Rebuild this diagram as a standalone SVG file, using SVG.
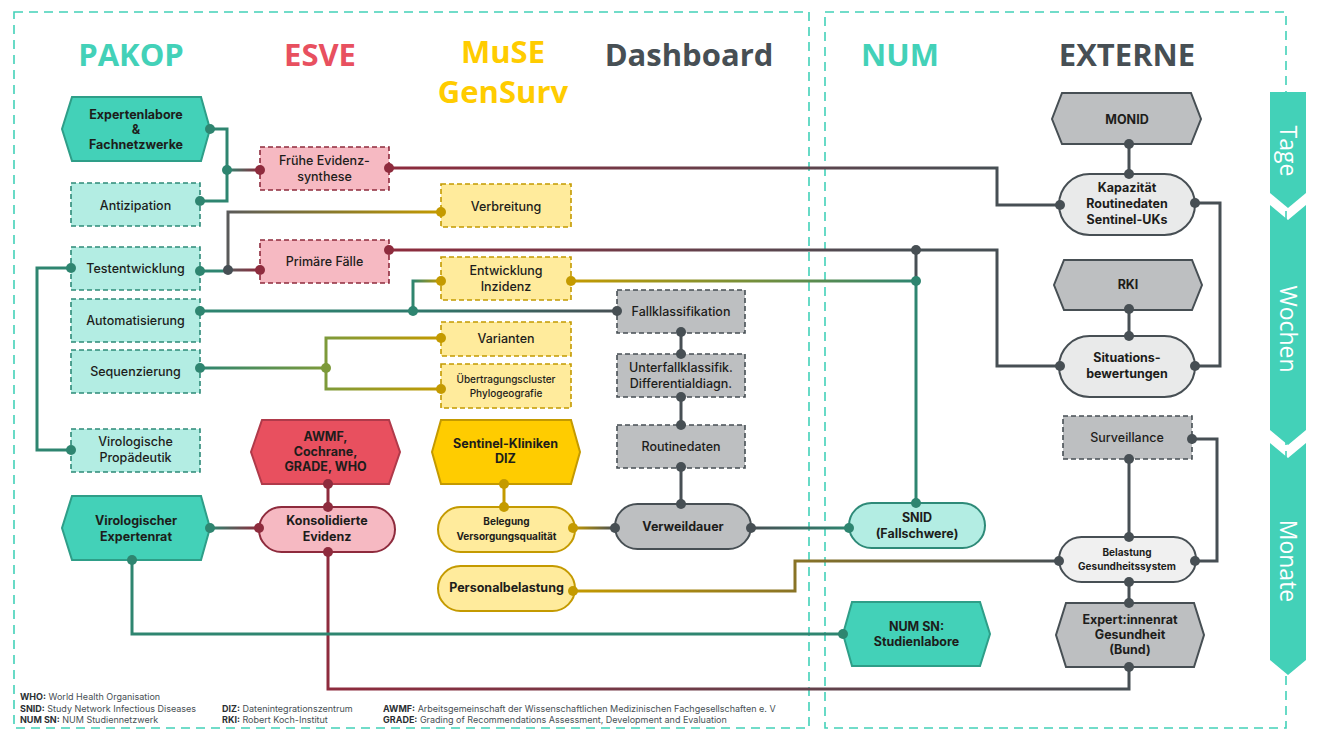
<svg xmlns="http://www.w3.org/2000/svg" width="1320" height="741" viewBox="0 0 1320 741">
<style>
.hdr{font-family:"Open Sans","Liberation Sans",sans-serif;font-weight:700;font-size:31px;text-anchor:middle}
.t{font-family:Inter,"Open Sans","Liberation Sans",sans-serif;font-size:12.5px;font-weight:500;text-anchor:middle;fill:#1d1d1b}
.b{font-weight:700}
.s{font-size:10px}
.lg{font-family:Inter,"Open Sans","Liberation Sans",sans-serif;font-size:9px;fill:#474F54}
.lg tspan.k{font-weight:700;fill:#2b2f33}
.frame{fill:none;stroke:#43D1B8;stroke-width:1.6;stroke-dasharray:9 6}
.hexT{fill:#43D1B8;stroke:#2E9E88;stroke-width:2}
.boxT{fill:#B3EDE3;stroke:#2E8A78;stroke-width:1.6;stroke-dasharray:5 3}
.stT{fill:#B3EDE3;stroke:#2E8A78;stroke-width:2}
.hexR{fill:#E8505F;stroke:#B03A4A;stroke-width:2}
.boxR{fill:#F6B9C2;stroke:#8E2B3D;stroke-width:1.6;stroke-dasharray:5 3}
.stR{fill:#F6B9C2;stroke:#8E2B3D;stroke-width:2}
.hexY{fill:#FFCC00;stroke:#C49A00;stroke-width:2}
.boxY{fill:#FFEB9C;stroke:#C49A00;stroke-width:1.6;stroke-dasharray:5 3}
.stY{fill:#FFEB9C;stroke:#C49A00;stroke-width:2}
.hexG{fill:#BDBFC1;stroke:#474F54;stroke-width:2}
.boxG{fill:#BDBFC1;stroke:#474F54;stroke-width:1.6;stroke-dasharray:5 3}
.stG{fill:#BDBFC1;stroke:#474F54;stroke-width:2}
.stL{fill:#E9EAEA;stroke:#474F54;stroke-width:2}
.c{fill:none;stroke-width:3}
.ct{stroke:#2E8570}.cr{stroke:#8E2B3D}.cy{stroke:#C49A00}.cg{stroke:#474F54}
.dT{fill:#2E8570}.dR{fill:#8E2B3D}.dY{fill:#C49A00}.dG{fill:#474F54}.dO{fill:#7D9A3A}
.bar{fill:#43D1B8}
.bt{font-family:"Open Sans","Liberation Sans",sans-serif;font-size:23px;fill:#ffffff;text-anchor:middle}
</style>
<defs>
<linearGradient id="gTR1" gradientUnits="userSpaceOnUse" x1="227" y1="0" x2="260" y2="0"><stop offset="0" stop-color="#2E8570"/><stop offset="1" stop-color="#8E2B3D"/></linearGradient>
<linearGradient id="gGR" gradientUnits="userSpaceOnUse" x1="228" y1="0" x2="260" y2="0"><stop offset="0" stop-color="#5a5a5a"/><stop offset="1" stop-color="#8E2B3D"/></linearGradient>
<linearGradient id="gGY" gradientUnits="userSpaceOnUse" x1="228" y1="0" x2="441" y2="0"><stop offset="0" stop-color="#5a5a5a"/><stop offset="0.5" stop-color="#8a7a2a"/><stop offset="1" stop-color="#C49A00"/></linearGradient>
<linearGradient id="gTG" gradientUnits="userSpaceOnUse" x1="200" y1="0" x2="617" y2="0"><stop offset="0" stop-color="#2E8570"/><stop offset="0.5" stop-color="#2E7A6C"/><stop offset="1" stop-color="#474F54"/></linearGradient>
<linearGradient id="gTY" gradientUnits="userSpaceOnUse" x1="413" y1="0" x2="441" y2="0"><stop offset="0" stop-color="#2E8570"/><stop offset="1" stop-color="#C49A00"/></linearGradient>
<linearGradient id="gTO" gradientUnits="userSpaceOnUse" x1="200" y1="0" x2="326" y2="0"><stop offset="0" stop-color="#2E8570"/><stop offset="1" stop-color="#7D9A3A"/></linearGradient>
<linearGradient id="gOY" gradientUnits="userSpaceOnUse" x1="326" y1="0" x2="441" y2="0"><stop offset="0" stop-color="#7D9A3A"/><stop offset="1" stop-color="#C49A00"/></linearGradient>
<linearGradient id="gRG1" gradientUnits="userSpaceOnUse" x1="389" y1="0" x2="997" y2="0"><stop offset="0" stop-color="#8E2B3D"/><stop offset="1" stop-color="#474F54"/></linearGradient>
<linearGradient id="gRG2" gradientUnits="userSpaceOnUse" x1="389" y1="0" x2="916" y2="0"><stop offset="0" stop-color="#8E2B3D"/><stop offset="1" stop-color="#474F54"/></linearGradient>
<linearGradient id="gYT" gradientUnits="userSpaceOnUse" x1="571" y1="0" x2="916" y2="0"><stop offset="0" stop-color="#C49A00"/><stop offset="1" stop-color="#2E8570"/></linearGradient>
<linearGradient id="gTR2" gradientUnits="userSpaceOnUse" x1="210" y1="0" x2="259" y2="0"><stop offset="0" stop-color="#2E8570"/><stop offset="1" stop-color="#8E2B3D"/></linearGradient>
<linearGradient id="gRG3" gradientUnits="userSpaceOnUse" x1="328" y1="0" x2="1129" y2="0"><stop offset="0" stop-color="#8E2B3D"/><stop offset="1" stop-color="#474F54"/></linearGradient>
<linearGradient id="gYG1" gradientUnits="userSpaceOnUse" x1="573" y1="0" x2="615" y2="0"><stop offset="0" stop-color="#C49A00"/><stop offset="1" stop-color="#474F54"/></linearGradient>
<linearGradient id="gYG2" gradientUnits="userSpaceOnUse" x1="573" y1="0" x2="1059" y2="0"><stop offset="0" stop-color="#C49A00"/><stop offset="0.45" stop-color="#8A7425"/><stop offset="1" stop-color="#474F54"/></linearGradient>
<linearGradient id="gGT" gradientUnits="userSpaceOnUse" x1="751" y1="0" x2="849" y2="0"><stop offset="0" stop-color="#474F54"/><stop offset="1" stop-color="#2E8570"/></linearGradient>
</defs>

<rect width="1320" height="741" fill="#ffffff"/>

<g id="frames">
<rect class="frame" x="14" y="12" width="795" height="716"/>
<rect class="frame" x="825" y="12" width="461" height="716"/>
</g>

<g id="headers">
<text class="hdr" x="131" y="66" fill="#43D1B8">PAKOP</text>
<text class="hdr" x="320" y="66" fill="#E8505F">ESVE</text>
<text class="hdr" x="503" y="63" fill="#FFCC00">MuSE</text>
<text class="hdr" x="503" y="103" fill="#FFCC00">GenSurv</text>
<text class="hdr" x="689" y="66" fill="#474F54">Dashboard</text>
<text class="hdr" x="900" y="66" fill="#43D1B8">NUM</text>
<text class="hdr" x="1127" y="66" fill="#474F54">EXTERNE</text>
</g>

<g id="timeline">
<polygon class="bar" points="1270,92 1306,92 1306,193 1288,208 1270,193"/>
<polygon class="bar" points="1270,205 1288,220 1306,205 1306,430 1288,445 1270,430"/>
<polygon class="bar" points="1270,443 1288,458 1306,443 1306,660 1288,675 1270,660"/>
<text class="bt" transform="translate(1280,151) rotate(90)">Tage</text>
<text class="bt" transform="translate(1280,329) rotate(90)">Wochen</text>
<text class="bt" transform="translate(1280,561) rotate(90)">Monate</text>
</g>

<g id="connectors">
<path class="c ct" d="M210,129 H227 V201 H200"/>
<path class="c" stroke="url(#gTR1)" d="M227,170 H260"/>
<path class="c ct" d="M200,271 H228"/>
<path class="c" stroke="url(#gGR)" d="M228,270 H260"/>
<path class="c" stroke="url(#gGY)" d="M228,270 V212 H441"/>
<path class="c ct" d="M71,268 H37 V450 H71"/>
<path class="c" stroke="url(#gTG)" d="M200,311 H617"/>
<path class="c" stroke="url(#gTY)" d="M413,311 V281 H441"/>
<path class="c" stroke="url(#gTO)" d="M200,368 H326"/>
<path class="c" stroke="url(#gOY)" d="M441,338 H326 V389 H441"/>
<path class="c" stroke="url(#gRG1)" d="M389,168 H997 V205 H1060"/>
<path class="c" stroke="url(#gRG2)" d="M389,250 H997 V366 H1060"/>
<path class="c cg" d="M916,250 V281"/>
<path class="c ct" d="M916,281 V503"/>
<path class="c" stroke="url(#gYT)" d="M571,281 H916"/>
<path class="c cr" d="M328,484 V507"/>
<path class="c" stroke="url(#gTR2)" d="M210,528 H259"/>
<path class="c" stroke="url(#gRG3)" d="M328,552 V689 H1129 V667"/>
<path class="c ct" d="M132,560 V634 H843"/>
<path class="c cy" d="M504,484 V507"/>
<path class="c" stroke="url(#gYG1)" d="M573,528 H615"/>
<path class="c" stroke="url(#gYG2)" d="M573,591 H795 V561 H1059"/>
<path class="c cg" d="M681,332 V354 M681,397 V425 M681,467 V504"/>
<path class="c" stroke="url(#gGT)" d="M751,528 H849"/>
<path class="c cg" d="M1129,144 V174"/>
<path class="c cg" d="M1195,203 H1220 V366 H1195"/>
<path class="c cg" d="M1129,309 V336"/>
<path class="c cg" d="M1192,439 H1217 V561 H1195"/>
<path class="c cg" d="M1129,459 V537"/>
<path class="c cg" d="M1129,582 V603"/>
</g>

<g id="n-expertenlabore">
<polygon class="hexT" points="72,97 201,97 210,129 201,161 72,161 62,129"/>
<text class="t b"><tspan x="136" y="119">Expertenlabore</tspan><tspan x="136" y="134">&amp;</tspan><tspan x="136" y="149">Fachnetzwerke</tspan></text>
</g>
<g id="n-antizipation">
<rect class="boxT" x="71" y="183" width="129" height="43"/>
<text class="t" x="135.5" y="209.5">Antizipation</text>
</g>
<g id="n-testentwicklung">
<rect class="boxT" x="71" y="247" width="129" height="43"/>
<text class="t" x="135.5" y="272.5">Testentwicklung</text>
</g>
<g id="n-automatisierung">
<rect class="boxT" x="71" y="299" width="129" height="43"/>
<text class="t" x="135.5" y="324.5">Automatisierung</text>
</g>
<g id="n-sequenzierung">
<rect class="boxT" x="71" y="350" width="129" height="43"/>
<text class="t" x="135.5" y="375.5">Sequenzierung</text>
</g>
<g id="n-propaedeutik">
<rect class="boxT" x="71" y="429" width="129" height="43"/>
<text class="t"><tspan x="135.5" y="446">Virologische</tspan><tspan x="135.5" y="462">Propädeutik</tspan></text>
</g>
<g id="n-expertenrat">
<polygon class="hexT" points="72,496 201,496 210,528 201,560 72,560 62,528"/>
<text class="t b"><tspan x="136" y="525">Virologischer</tspan><tspan x="136" y="541">Expertenrat</tspan></text>
</g>

<g id="n-fruehe">
<rect class="boxR" x="260" y="147" width="129" height="43"/>
<text class="t"><tspan x="324.5" y="165">Frühe Evidenz-</tspan><tspan x="324.5" y="181">synthese</tspan></text>
</g>
<g id="n-primaere">
<rect class="boxR" x="260" y="240" width="129" height="43"/>
<text class="t" x="324.5" y="265.5">Primäre Fälle</text>
</g>
<g id="n-awmf">
<polygon class="hexR" points="262,420 389,420 400,452 389,484 262,484 251,452"/>
<text class="t b"><tspan x="325.5" y="441">AWMF,</tspan><tspan x="325.5" y="456">Cochrane,</tspan><tspan x="325.5" y="471">GRADE, WHO</tspan></text>
</g>
<g id="n-konsolidierte">
<rect class="stR" x="259" y="507" width="136" height="45" rx="22.5"/>
<text class="t b"><tspan x="327" y="525">Konsolidierte</tspan><tspan x="327" y="541">Evidenz</tspan></text>
</g>

<g id="n-verbreitung">
<rect class="boxY" x="441" y="184" width="130" height="43"/>
<text class="t" x="506" y="210.5">Verbreitung</text>
</g>
<g id="n-entwicklung">
<rect class="boxY" x="441" y="257" width="130" height="43"/>
<text class="t"><tspan x="506" y="275">Entwicklung</tspan><tspan x="506" y="291">Inzidenz</tspan></text>
</g>
<g id="n-varianten">
<rect class="boxY" x="441" y="322" width="130" height="34"/>
<text class="t" x="506" y="343">Varianten</text>
</g>
<g id="n-uebertragung">
<rect class="boxY" x="441" y="364" width="130" height="44"/>
<text class="t s"><tspan x="506" y="383">Übertragungscluster</tspan><tspan x="506" y="396.5">Phylogeografie</tspan></text>
</g>
<g id="n-sentinel">
<polygon class="hexY" points="441,420 571,420 580,452 571,484 441,484 432,452"/>
<text class="t b"><tspan x="505.5" y="448">Sentinel-Kliniken</tspan><tspan x="505.5" y="463">DIZ</tspan></text>
</g>
<g id="n-belegung">
<rect class="stY" x="438" y="507" width="137" height="45" rx="22.5"/>
<text class="t b s"><tspan x="506.5" y="525">Belegung</tspan><tspan x="506.5" y="539.5">Versorgungsqualität</tspan></text>
</g>
<g id="n-personal">
<rect class="stY" x="438" y="566" width="137" height="45" rx="22.5"/>
<text class="t b" x="506.5" y="592" font-size="12">Personalbelastung</text>
</g>

<g id="n-fallklassifikation">
<rect class="boxG" x="617" y="290" width="128" height="43"/>
<text class="t" x="681" y="315.5">Fallklassifikation</text>
</g>
<g id="n-unterfall">
<rect class="boxG" x="617" y="354" width="128" height="43"/>
<text class="t"><tspan x="681" y="372">Unterfallklassifik.</tspan><tspan x="681" y="388">Differentialdiagn.</tspan></text>
</g>
<g id="n-routinedaten">
<rect class="boxG" x="617" y="425" width="128" height="43"/>
<text class="t" x="681" y="450.5">Routinedaten</text>
</g>
<g id="n-verweildauer">
<rect class="stG" x="615" y="504" width="136" height="45" rx="22.5"/>
<text class="t b" x="683" y="531" font-size="14">Verweildauer</text>
</g>

<g id="n-snid">
<rect class="stT" x="849" y="503" width="136" height="45" rx="22.5"/>
<text class="t b"><tspan x="917" y="522">SNID</tspan><tspan x="917" y="538">(Fallschwere)</tspan></text>
</g>
<g id="n-numsn">
<polygon class="hexT" points="852,602 980,602 990,634 980,666 852,666 843,634"/>
<text class="t b"><tspan x="916.5" y="630.5">NUM SN:</tspan><tspan x="916.5" y="646">Studienlabore</tspan></text>
</g>

<g id="n-monid">
<polygon class="hexG" points="1062,93 1191,93 1201,119 1191,144 1062,144 1052,119"/>
<text class="t b" x="1127" y="123.5">MONID</text>
</g>
<g id="n-kapazitaet">
<rect class="stL" x="1059" y="174" width="136" height="61" rx="30.5"/>
<text class="t b"><tspan x="1127" y="192">Kapazität</tspan><tspan x="1127" y="208">Routinedaten</tspan><tspan x="1127" y="224">Sentinel-UKs</tspan></text>
</g>
<g id="n-rki">
<polygon class="hexG" points="1064,260 1192,260 1202,285 1192,310 1064,310 1054,285"/>
<text class="t b" x="1128" y="289">RKI</text>
</g>
<g id="n-situations">
<rect class="stL" x="1059" y="336" width="136" height="61" rx="30.5"/>
<text class="t b"><tspan x="1127" y="362">Situations-</tspan><tspan x="1127" y="378">bewertungen</tspan></text>
</g>
<g id="n-surveillance">
<rect class="boxG" x="1063" y="416" width="129" height="43"/>
<text class="t" x="1127" y="441.5">Surveillance</text>
</g>
<g id="n-belastung">
<rect class="stL" x="1059" y="537" width="137" height="45" rx="22.5" style="fill:#F0F0F0"/>
<text class="t b s"><tspan x="1127" y="556">Belastung</tspan><tspan x="1127" y="570">Gesundheitssystem</tspan></text>
</g>
<g id="n-expertinnenrat">
<polygon class="hexG" points="1066,603 1194,603 1204,635 1194,667 1066,667 1056,635"/>
<text class="t b"><tspan x="1130" y="624">Expert:innenrat</tspan><tspan x="1130" y="639">Gesundheit</tspan><tspan x="1130" y="654">(Bund)</tspan></text>
</g>

<g id="dots">
<g class="dT">
<circle cx="210" cy="129" r="5"/><circle cx="227" cy="170" r="5"/><circle cx="200" cy="201" r="5"/>
<circle cx="71" cy="268" r="5"/><circle cx="200" cy="271" r="5"/><circle cx="200" cy="311" r="5"/>
<circle cx="413" cy="311" r="5"/><circle cx="200" cy="368" r="5"/><circle cx="71" cy="450" r="5"/>
<circle cx="210" cy="528" r="5"/><circle cx="132" cy="560" r="5"/><circle cx="916" cy="503" r="5"/>
<circle cx="849" cy="528" r="5"/><circle cx="843" cy="634" r="5"/><circle cx="916" cy="281" r="5"/>
</g>
<g class="dG">
<circle cx="228" cy="270" r="5"/><circle cx="617" cy="311" r="5"/><circle cx="681" cy="332" r="5"/>
<circle cx="681" cy="354" r="5"/><circle cx="681" cy="397" r="5"/><circle cx="681" cy="425" r="5"/>
<circle cx="681" cy="467" r="5"/><circle cx="681" cy="504" r="5"/><circle cx="615" cy="528" r="5"/>
<circle cx="751" cy="528" r="5"/><circle cx="916" cy="250" r="5"/><circle cx="1129" cy="144" r="5"/>
<circle cx="1129" cy="174" r="5"/><circle cx="1060" cy="205" r="5"/><circle cx="1195" cy="203" r="5"/>
<circle cx="1129" cy="309" r="5"/><circle cx="1129" cy="336" r="5"/><circle cx="1060" cy="366" r="5"/>
<circle cx="1195" cy="366" r="5"/><circle cx="1192" cy="439" r="5"/><circle cx="1129" cy="459" r="5"/>
<circle cx="1129" cy="537" r="5"/><circle cx="1059" cy="561" r="5"/><circle cx="1195" cy="561" r="5"/>
<circle cx="1129" cy="582" r="5"/><circle cx="1129" cy="603" r="5"/><circle cx="1129" cy="667" r="5"/>
</g>
<g class="dR">
<circle cx="260" cy="170" r="5"/><circle cx="389" cy="168" r="5"/><circle cx="260" cy="270" r="5"/>
<circle cx="389" cy="250" r="5"/><circle cx="328" cy="484" r="5"/><circle cx="328" cy="507" r="5"/>
<circle cx="259" cy="528" r="5"/><circle cx="328" cy="552" r="5"/>
</g>
<g class="dY">
<circle cx="441" cy="212" r="5"/><circle cx="441" cy="281" r="5"/><circle cx="571" cy="281" r="5"/>
<circle cx="441" cy="338" r="5"/><circle cx="441" cy="389" r="5"/><circle cx="504" cy="484" r="5"/>
<circle cx="504" cy="507" r="5"/><circle cx="573" cy="528" r="5"/><circle cx="573" cy="591" r="5"/>
</g>
<circle class="dO" cx="326" cy="368" r="5"/>
</g>

<g id="legend">
<text class="lg" x="20" y="700"><tspan class="k">WHO:</tspan> World Health Organisation</text>
<text class="lg" x="20" y="711.5"><tspan class="k">SNID:</tspan> Study Network Infectious Diseases</text>
<text class="lg" x="20" y="723"><tspan class="k">NUM SN:</tspan> NUM Studiennetzwerk</text>
<text class="lg" x="222" y="711.5"><tspan class="k">DIZ:</tspan> Datenintegrationszentrum</text>
<text class="lg" x="222" y="723"><tspan class="k">RKI:</tspan> Robert Koch-Institut</text>
<text class="lg" x="383" y="711.5"><tspan class="k">AWMF:</tspan>  Arbeitsgemeinschaft der Wissenschaftlichen Medizinischen Fachgesellschaften e. V</text>
<text class="lg" x="383" y="723"><tspan class="k">GRADE:</tspan> Grading of Recommendations Assessment, Development and Evaluation</text>
</g>
</svg>
